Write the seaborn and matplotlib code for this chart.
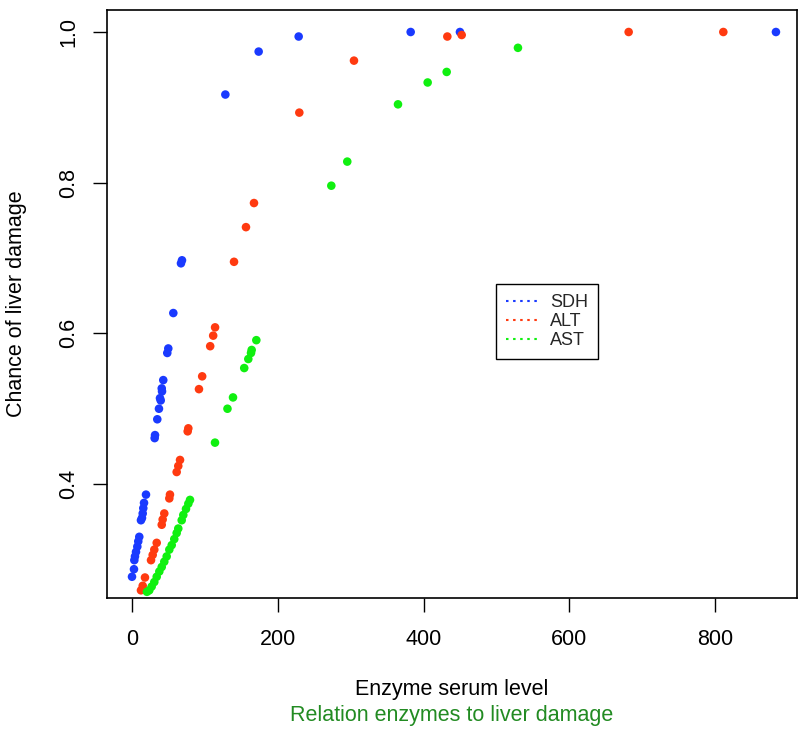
import matplotlib
matplotlib.use("Agg")
import matplotlib.pyplot as plt
from matplotlib.lines import Line2D
import seaborn as sns
import pandas as pd

sdh_x = [883.6, 450.0, 382.4, 228.7, 173.8, 128.1, 68.6, 67.2, 56.7, 49.8, 48.4,
         42.9, 40.8, 41.2, 38.4, 39.4, 37.0, 34.7, 31.6, 31.1,
         19.2, 16.5, 15.5, 14.7, 13.7, 12.3, 10.0, 8.6, 7.3, 5.5, 4.1, 3.2, 2.7, 0.0]
sdh_y = [1.0, 1.0, 1.0, 0.994, 0.974, 0.917, 0.697, 0.693, 0.627, 0.580, 0.574,
         0.538, 0.527, 0.523, 0.514, 0.511, 0.500, 0.486, 0.465, 0.461,
         0.386, 0.375, 0.368, 0.361, 0.355, 0.352, 0.330, 0.324, 0.317, 0.310, 0.304, 0.299, 0.287, 0.277]

alt_x = [811.4, 681.5, 452.4, 432.7, 304.6, 229.6, 167.4, 156.4, 140.0, 114.0, 111.4,
         107.3, 96.3, 91.9, 77.3, 76.4, 65.9, 63.5, 61.3, 52.1, 51.2, 44.3, 42.1, 40.8,
         33.9, 30.6, 28.4, 26.1, 17.8, 14.7, 12.3]
alt_y = [1.0, 1.0, 0.996, 0.994, 0.962, 0.893, 0.773, 0.741, 0.695, 0.608, 0.597,
         0.583, 0.543, 0.526, 0.474, 0.470, 0.432, 0.424, 0.416, 0.386, 0.381, 0.361, 0.353, 0.346,
         0.322, 0.313, 0.306, 0.299, 0.276, 0.265, 0.259]

ast_x = [529.6, 431.8, 405.7, 365.0, 295.4, 273.5, 170.6, 164.2, 163.3, 159.6, 154.0,
         138.6, 131.0, 113.9, 79.6, 77.3, 74.1, 70.4, 68.2, 63.5, 61.3, 58.0, 54.5, 51.2,
         47.6, 44.3, 40.8, 37.5, 33.9, 30.6, 27.0, 23.7, 20.5]
ast_y = [0.979, 0.947, 0.933, 0.904, 0.828, 0.796, 0.591, 0.578, 0.574, 0.566, 0.554,
         0.515, 0.500, 0.455, 0.379, 0.374, 0.367, 0.359, 0.352, 0.341, 0.335, 0.327, 0.319, 0.313,
         0.304, 0.297, 0.290, 0.284, 0.277, 0.270, 0.264, 0.259, 0.257]

enzymes = ["SDH", "ALT", "AST"]
colors = {"SDH": "#1a3aff", "ALT": "#ff3a10", "AST": "#10f010"}
x_ticks = [0, 200, 400, 600, 800]
y_ticks = [0.4, 0.6, 0.8, 1.0]
y_tick_labels = ["0.4", "0.6", "0.8", "1.0"]

df = pd.concat([
    pd.DataFrame({"level": sdh_x, "chance": sdh_y, "enzyme": "SDH"}),
    pd.DataFrame({"level": alt_x, "chance": alt_y, "enzyme": "ALT"}),
    pd.DataFrame({"level": ast_x, "chance": ast_y, "enzyme": "AST"}),
], ignore_index=True)

sns.set_style("white")
plt.rcParams["font.family"] = ["Liberation Sans", "DejaVu Sans"]

fig = plt.figure(figsize=(7.98, 7.29), dpi=100)
ax = fig.add_axes([107 / 798, 1 - 598 / 729, (797 - 107) / 798, (598 - 10) / 729])

sns.scatterplot(data=df, x="level", y="chance", hue="enzyme", hue_order=enzymes,
                palette=colors, s=38, linewidth=0, ax=ax, legend=False)

ax.set_xlim(-34.3, 912.5)
ax.set_ylim(0.2488, 1.0292)
ax.set_xticks(x_ticks)
ax.set_xticklabels([str(t) for t in x_ticks])
ax.set_yticks(y_ticks)
ax.set_yticklabels(y_tick_labels, rotation=90, va="center")
ax.tick_params(axis="both", direction="out", length=10, width=1, color="black",
               labelsize=15.5, labelcolor="black", bottom=True, left=True)
ax.tick_params(axis="x", pad=12)
ax.tick_params(axis="y", pad=10)
for sp in ax.spines.values():
    sp.set_visible(True)
    sp.set_color("black")
    sp.set_linewidth(1.2)

ax.set_xlabel("")
ax.set_ylabel("")
fig.text((107 + 797) / 2 / 798, 1 - 690 / 729, "Enzyme serum level", ha="center", va="center",
         fontsize=15.5, color="black")
fig.text((107 + 797) / 2 / 798, 1 - 716 / 729, "Relation enzymes to liver damage", ha="center",
         va="center", fontsize=15.5, color="#228B22")
fig.text(17 / 798, 1 - 304 / 729, "Chance of liver damage", ha="center", va="center",
         rotation=90, fontsize=15.5, color="black")

handles = [Line2D([0], [0], color=colors[e], linestyle=(0, (1.2, 2.2)), linewidth=1.5) for e in enzymes]
leg = ax.legend(handles, enzymes, loc="upper left",
                bbox_to_anchor=(496 / 798, 1 - 284 / 729), bbox_transform=fig.transFigure,
                fontsize=13, frameon=True, fancybox=False, shadow=False,
                handlelength=1.7, handletextpad=0.75, labelspacing=0.12,
                borderpad=0.55, borderaxespad=0.0)
leg.get_frame().set_edgecolor("black")
leg.get_frame().set_linewidth(1.0)
leg.get_frame().set_alpha(1.0)

fig.savefig("out.png", dpi=100)
